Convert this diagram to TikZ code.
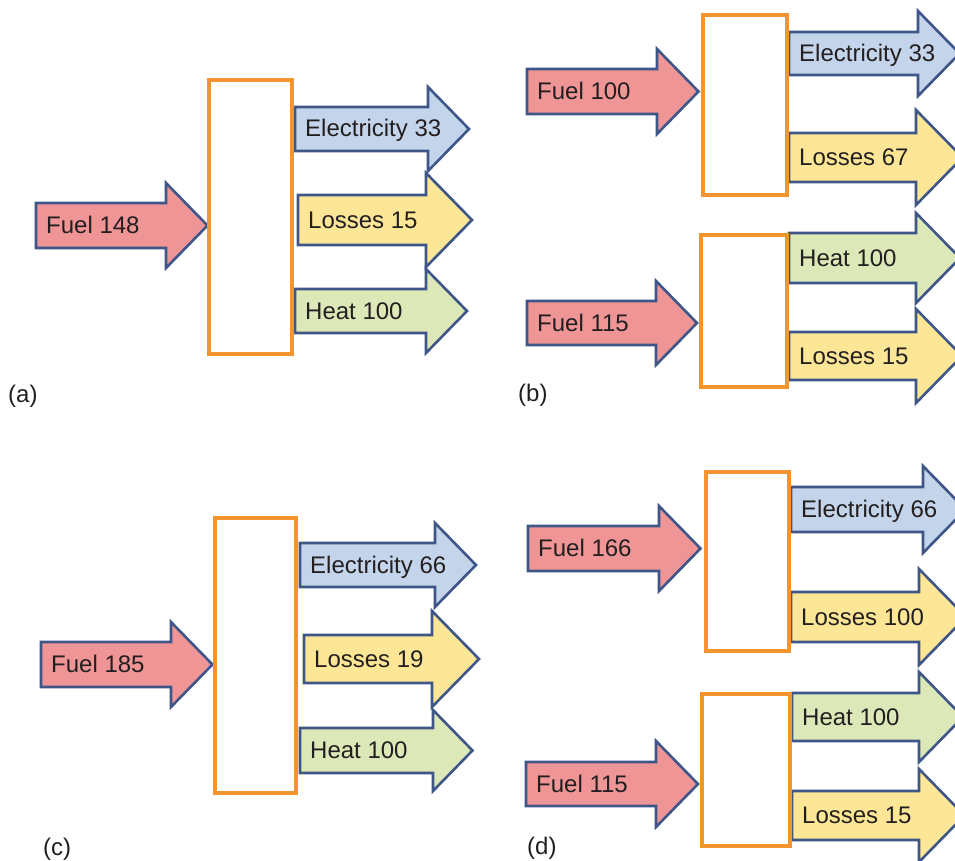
\documentclass[tikz,border=0pt]{standalone}
\usepackage{fontspec}
\setmainfont{Liberation Sans}
\usetikzlibrary{fit}

\definecolor{fuelred}{HTML}{EF9596}
\definecolor{elecblue}{HTML}{C4D4EA}
\definecolor{lossyellow}{HTML}{FDE796}
\definecolor{heatgreen}{HTML}{DCE8B8}
\definecolor{flowedge}{HTML}{3F5689}
\definecolor{plantorange}{HTML}{F5932F}
\definecolor{inkgrey}{HTML}{231F20}

% block arrow: name, fill, left x, head x, shaft top, shaft bottom, head overhang, label
\newcommand{\flowarrow}[8]{%
    \draw[flow, fill=#2] (#3,#5) -- (#4,#5) -- (#4,#5-#7)
        -- ({#4+(#6-#5)/2+#7-1},{(#5+#6)/2}) -- (#4,#6+#7) -- (#4,#6) -- (#3,#6) -- cycle;
    \node[flowtext] (#1) at (#3+10,{(#5+#6)/2+8}) {#8};
}

\begin{document}
\begin{tikzpicture}[x=1pt, y=-1pt,
    flow/.style={draw=flowedge, line width=2.6pt, line join=miter},
    flowtext/.style={anchor=base west, inner sep=0pt, text=inkgrey, font=\fontsize{24}{28}\selectfont},
    plant/.style={draw=plantorange, line width=4pt, fill=white, inner sep=0pt},
    panel/.style={anchor=base west, inner sep=0pt, text=inkgrey, font=\fontsize{24}{28}\selectfont}]
    \clip (0,0) rectangle (955,861);
    \fill[white] (0,0) rectangle (955,861);

    % (a)
    \flowarrow{fuelA}{fuelred}{36}{166}{203}{248}{20}{Fuel 148}
    \flowarrow{elecA}{elecblue}{295}{428}{107}{151}{20}{Electricity 33}
    \flowarrow{lossA}{lossyellow}{298}{426}{195}{245}{22}{Losses 15}
    \flowarrow{heatA}{heatgreen}{295}{426}{289}{333}{20}{Heat 100}
    \node[plant, fit={(209,80) (292,354)}] (plantA) {};
    \node[panel] (labA) at (8,402) {(a)};

    % (b)
    \flowarrow{fuelB1}{fuelred}{527}{657}{69}{114}{20}{Fuel 100}
    \flowarrow{fuelB2}{fuelred}{527}{656}{301}{345}{20}{Fuel 115}
    \flowarrow{elecB}{elecblue}{789}{918}{32}{75}{21}{Electricity 33}
    \flowarrow{lossB1}{lossyellow}{789}{916}{133}{182}{23}{Losses 67}
    \flowarrow{heatB}{heatgreen}{789}{916}{233}{283}{20}{Heat 100}
    \flowarrow{lossB2}{lossyellow}{789}{916}{332}{380}{23}{Losses 15}
    \node[plant, fit={(703,15) (787,195)}] (plantB1) {};
    \node[plant, fit={(701,235) (787,387)}] (plantB2) {};
    \node[panel] (labB) at (518,401) {(b)};

    % (c)
    \flowarrow{fuelC}{fuelred}{41}{171}{642}{687}{20}{Fuel 185}
    \flowarrow{elecC}{elecblue}{300}{435}{543}{587}{20}{Electricity 66}
    \flowarrow{lossC}{lossyellow}{304}{432}{635}{683}{24}{Losses 19}
    \flowarrow{heatC}{heatgreen}{300}{433}{728}{773}{18}{Heat 100}
    \node[plant, fit={(215,518) (296,793)}] (plantC) {};
    \node[panel] (labC) at (43,855) {(c)};

    % (d)
    \flowarrow{fuelD1}{fuelred}{528}{659}{526}{571}{20}{Fuel 166}
    \flowarrow{fuelD2}{fuelred}{526}{656}{762}{806}{21}{Fuel 115}
    \flowarrow{elecD}{elecblue}{791}{923}{487}{532}{21}{Electricity 66}
    \flowarrow{lossD1}{lossyellow}{791}{919}{592}{642}{23}{Losses 100}
    \flowarrow{heatD}{heatgreen}{792}{919}{693}{741}{21}{Heat 100}
    \flowarrow{lossD2}{lossyellow}{792}{919}{791}{840}{22}{Losses 15}
    \node[plant, fit={(706,472) (789,651)}] (plantD1) {};
    \node[plant, fit={(702,694) (790,846)}] (plantD2) {};
    \node[panel] (labD) at (527,854) {(d)};
\end{tikzpicture}
\end{document}
